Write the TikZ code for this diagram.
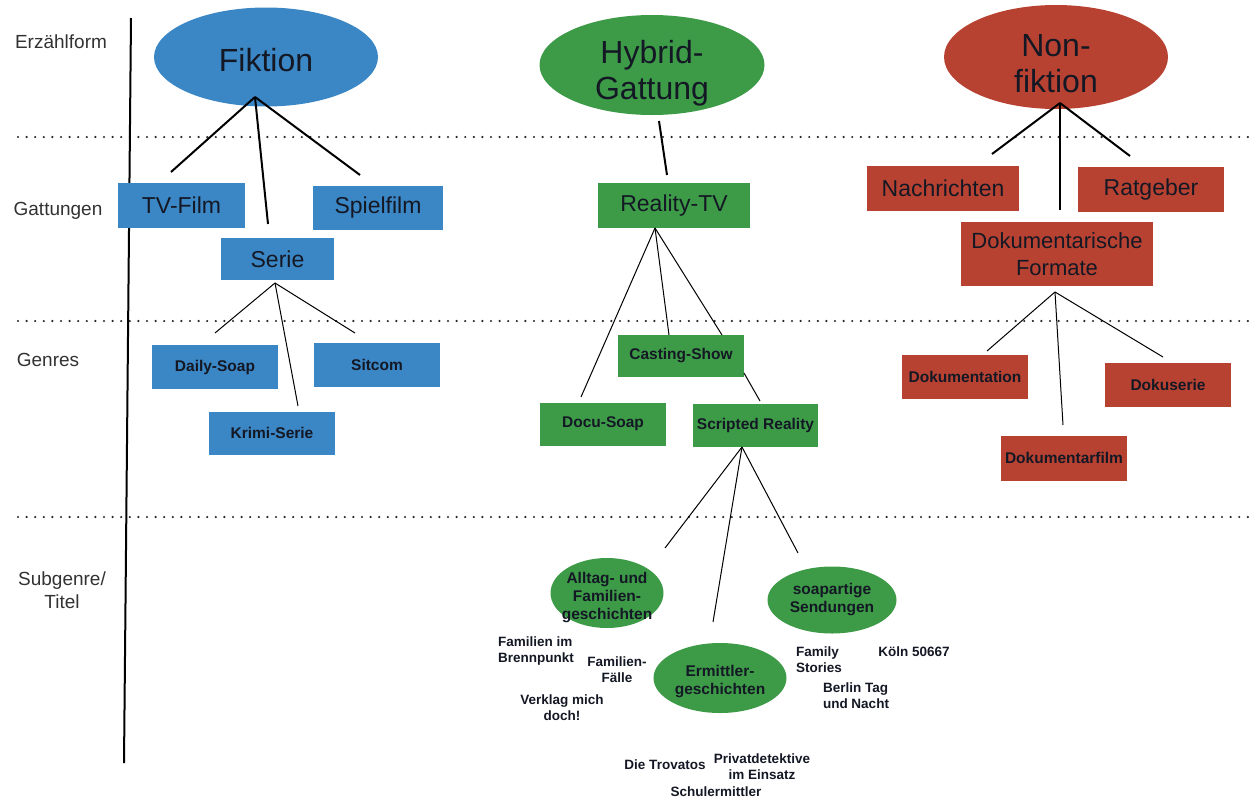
\documentclass[tikz,border=0pt]{standalone}
\usepackage{fontspec}
\setmainfont{Liberation Sans}
\usetikzlibrary{shapes.geometric}
\definecolor{fblue}{RGB}{59,134,196}
\definecolor{fgreen}{RGB}{61,155,72}
\definecolor{fred}{RGB}{184,66,50}
\definecolor{txt}{RGB}{20,24,36}
\definecolor{rowtxt}{RGB}{50,50,50}
\begin{document}
\begin{tikzpicture}[x=1pt,y=-1pt,
  big/.style={font=\fontsize{23}{27}\selectfont, text=txt, align=center},
  huge/.style={font=\fontsize{32}{36}\selectfont, text=txt, align=center},
  bold/.style={font=\bfseries\fontsize{15.5}{18}\selectfont, text=txt, align=center},
  small/.style={font=\bfseries\fontsize{13.5}{16}\selectfont, text=txt},
  rowlab/.style={font=\fontsize{19}{23}\selectfont, text=rowtxt, align=center},
  bx/.style={rectangle, inner sep=0pt, anchor=center},
  ell/.style={ellipse, inner sep=0pt, anchor=center},
  thick2/.style={line width=2pt, black},
  thin1/.style={line width=1pt, black},
  dotline/.style={line width=2.4pt, dash pattern=on 0pt off 8.6pt, line cap=round, black!85}
]
\useasboundingbox (0,0) rectangle (1256,801);

% separators
\coordinate (d1l) at (18,137); \coordinate (d1r) at (1252,137);
\coordinate (d2l) at (18,321); \coordinate (d2r) at (1252,321);
\coordinate (d3l) at (18,517); \coordinate (d3r) at (1252,517);
\draw[dotline] (d1l) -- (d1r);
\draw[dotline] (d2l) -- (d2r);
\draw[dotline] (d3l) -- (d3r);
\coordinate (vt) at (131,18); \coordinate (vb) at (124,763);
\draw[line width=2pt] (vt) -- (vb);

% row labels
\node[rowlab] (rl1) at (61,42) {Erzählform};
\node[rowlab] (rl2) at (58,211) {Gattungen};
\node[rowlab] (rl3) at (48,360) {Genres};
\node[rowlab] (rl4) at (62,590) {Subgenre/\\Titel};

% top ellipses
\node[ell, fill=fblue, minimum width=224pt, minimum height=99pt,
      label={[huge, yshift=-3pt]center:Fiktion}] (fik) at (266,57) {};
\node[ell, fill=fgreen, minimum width=225pt, minimum height=100pt,
      label={[huge, yshift=-8pt]center:Hybrid-\\Gattung}] (hyb) at (652,65) {};
\node[ell, fill=fred, minimum width=224pt, minimum height=104pt,
      label={[huge, yshift=-7pt]center:Non-\\fiktion}] (non) at (1056,57) {};

% Gattungen
\node[bx, fill=fblue, minimum width=127pt, minimum height=45pt, big] (tvf) at (181.5,205.5) {TV-Film};
\node[bx, fill=fblue, minimum width=130pt, minimum height=44pt, big] (spf) at (378,208) {Spielfilm};
\node[bx, fill=fblue, minimum width=113pt, minimum height=42pt, big] (ser) at (277.5,259) {Serie};
\node[bx, fill=fgreen, minimum width=152pt, minimum height=45pt, big] (rtv) at (674,205.5) {Reality-TV};
\node[bx, fill=fred, minimum width=152pt, minimum height=45pt, big] (nach) at (943,188.5) {Nachrichten};
\node[bx, fill=fred, minimum width=146pt, minimum height=45pt, big] (rat) at (1151,189.5) {Ratgeber};
\node[bx, fill=fred, minimum width=192pt, minimum height=64pt, big, font=\fontsize{22}{27}\selectfont] (dokf) at (1057,254) {Dokumentarische\\Formate};

% Genres
\node[bx, fill=fblue, minimum width=126pt, minimum height=44pt, bold] (ds) at (215,367) {Daily-Soap};
\node[bx, fill=fblue, minimum width=126pt, minimum height=44pt, bold] (sit) at (377,365) {Sitcom};
\node[bx, fill=fblue, minimum width=126pt, minimum height=43pt, bold] (krimi) at (272,433) {Krimi-Serie};
\node[bx, fill=fgreen, minimum width=126pt, minimum height=42pt, bold] (cast) at (681,356) {Casting-Show};
\node[bx, fill=fgreen, minimum width=126pt, minimum height=43pt, bold] (docu) at (603,424) {Docu-Soap};
\node[bx, fill=fgreen, minimum width=125pt, minimum height=43pt, bold] (scr) at (755.5,425) {Scripted Reality};
\node[bx, fill=fred, minimum width=126pt, minimum height=44pt, bold] (dtion) at (965,377) {Dokumentation};
\node[bx, fill=fred, minimum width=126pt, minimum height=44pt, bold] (dserie) at (1168,385) {Dokuserie};
\node[bx, fill=fred, minimum width=126pt, minimum height=45pt, bold] (dfilm) at (1064,458) {Dokumentarfilm};

% Subgenres
\node[ell, fill=fgreen, minimum width=113pt, minimum height=70pt,
      label={[bold, yshift=-5pt]center:Alltag- und\\Familien-\\geschichten}] (alltag) at (607,593) {};
\node[ell, fill=fgreen, minimum width=129pt, minimum height=67pt, bold] (soap) at (832,600) {soapartige\\Sendungen};
\node[ell, fill=fgreen, minimum width=133pt, minimum height=70pt,
      label={[bold, yshift=-4pt]center:Ermittler-\\geschichten}] (ermit) at (720,678) {};

% titles
\node[small, align=left] (t1) at (536,651) {Familien im\\Brennpunkt};
\node[small, align=center] (t2) at (617,670) {Familien-\\Fälle};
\node[small, align=center] (t3) at (562,708) {Verklag mich\\doch!};
\node[small, align=left] (t4) at (819,660) {Family\\Stories};
\node[small] (t5) at (914,652) {Köln 50667};
\node[small, align=left] (t6) at (856,696) {Berlin Tag\\und Nacht};
\node[small] (t7) at (665,765) {Die Trovatos};
\node[small, align=center] (t8) at (762,767) {Privatdetektive\\im Einsatz};
\node[small] (t9) at (716,792) {Schulermittler};

% connector points
\coordinate (fikb) at (255,97);
\coordinate (tvft) at (171,172);
\coordinate (sert) at (268,224);
\coordinate (spft) at (360,175);
\draw[thick2] (fikb) -- (tvft);
\draw[thick2] (fikb) -- (sert);
\draw[thick2] (fikb) -- (spft);

\coordinate (hybb) at (659,121);
\coordinate (rtvt) at (667,175);
\draw[thick2] (hybb) -- (rtvt);

\coordinate (nonb) at (1060,103);
\coordinate (nacht) at (992,154);
\coordinate (dokft) at (1060,210);
\coordinate (ratt) at (1130,156);
\draw[thick2] (nonb) -- (nacht);
\draw[thick2] (nonb) -- (dokft);
\draw[thick2] (nonb) -- (ratt);

\coordinate (serb) at (275,283);
\coordinate (dst) at (215,333);
\coordinate (krimit) at (298,406);
\coordinate (sitt) at (355,333);
\draw[thin1] (serb) -- (dst);
\draw[thin1] (serb) -- (krimit);
\draw[thin1] (serb) -- (sitt);

\coordinate (rtvb) at (655,228);
\coordinate (docut) at (581,397);
\coordinate (castt) at (669,335);
\coordinate (castt2) at (722,335);
\draw[thin1] (rtvb) -- (docut);
\draw[thin1] (rtvb) -- (castt);
\draw[thin1] (rtvb) -- (castt2);

\coordinate (castb) at (744,373);
\coordinate (scrt) at (760,401);
\draw[thin1] (castb) -- (scrt);

\coordinate (scrb) at (742,447);
\coordinate (alltagt) at (665,548);
\coordinate (ermitt) at (713,622);
\coordinate (soapt) at (798,553);
\draw[thin1] (scrb) -- (alltagt);
\draw[thin1] (scrb) -- (ermitt);
\draw[thin1] (scrb) -- (soapt);

\coordinate (dokfb) at (1055,292);
\coordinate (dtiont) at (987,351);
\coordinate (dfilmt) at (1063,425);
\coordinate (dseriet) at (1163,357);
\draw[thin1] (dokfb) -- (dtiont);
\draw[thin1] (dokfb) -- (dfilmt);
\draw[thin1] (dokfb) -- (dseriet);
\end{tikzpicture}
\end{document}
